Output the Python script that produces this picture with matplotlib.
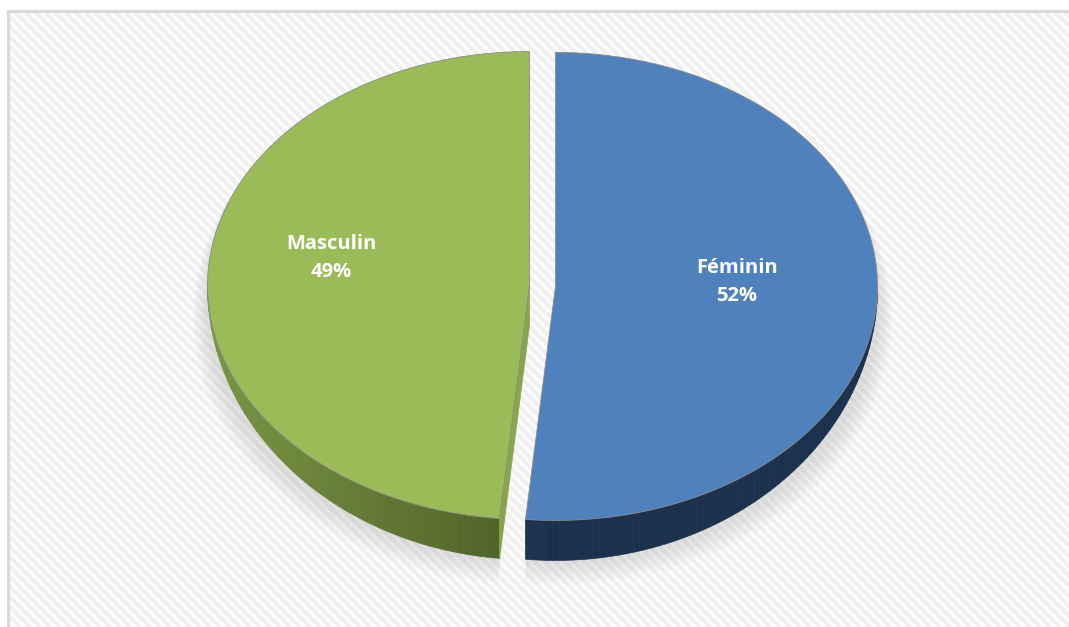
import numpy as np
import matplotlib.pyplot as plt
from matplotlib.colors import to_rgb
from matplotlib.patches import Polygon
from matplotlib.collections import LineCollection, PolyCollection

# Répartition par sexe (en %)
categories = ['Féminin', 'Masculin']
values = [52, 49]

top_colors = ['#4f81bd', '#9bbb59']
side_dark = ['#1c314d', '#4b5f26']
side_light = ['#2a4668', '#7a9643']
cut_colors = ['#3f6ea6', '#87a64c']

W, H = 1069, 627
fig = plt.figure(figsize=(W / 100, H / 100), dpi=100)
ax = fig.add_axes([0, 0, 1, 1])
ax.set_xlim(0, W)
ax.set_ylim(H, 0)
ax.axis('off')

# striped background inside the frame
segs = []
for x0 in np.arange(-H, W + 10, 10):
    segs.append([(x0, 0), (x0 + H, H)])
ax.add_collection(LineCollection(segs, colors='#f0f0f0', linewidths=3.2, zorder=0))
ax.add_patch(plt.Rectangle((0, 0), W, 10, color='white', zorder=0.5))
ax.add_patch(plt.Rectangle((0, 0), 7, H, color='white', zorder=0.5))
ax.plot([8, 8, W], [H, 11, 11], color='#d9d9d9', lw=2.2, zorder=0.6,
        solid_joinstyle='miter')

# pie geometry (screen pixels, y down)
cx, cy = 542.5, 286
rx, ry = 322, 234
depth = 40
explode = 13

total = float(sum(values))
spans = [v / total * 360 for v in values]
starts = [90 - sum(spans[:i]) for i in range(len(values))]  # clockwise from 12 o'clock


def pt(c, t, bottom=False):
    # point on the top (or bottom) rim at math angle t in degrees, y pointing down
    r = np.radians(t)
    yr = ry + depth if bottom else ry
    return (c[0] + rx * np.cos(r), c[1] - yr * np.sin(r))


centers = []
for s, sp in zip(starts, spans):
    mid = np.radians(s - sp / 2)
    centers.append((cx + explode * np.cos(mid), cy - explode * np.sin(mid) * ry / rx))

# soft shadow under each slice, spreading downward
for c, s, sp in zip(centers, starts, spans):
    tr = np.radians(np.linspace(s - sp, s, 150))
    for k in range(8):
        g = 3 + k * 3
        sc = (c[0], c[1] + depth / 2 + g / 2)
        xs = np.r_[sc[0], sc[0] + (rx + g * 0.6) * np.cos(tr)]
        ys = np.r_[sc[1], sc[1] - (ry + depth / 2 + g / 2) * np.sin(tr)]
        ax.fill(xs, ys, color='#808080', alpha=0.028, lw=0, zorder=1)

for i, (c, s, sp) in enumerate(zip(centers, starts, spans)):
    a0, a1 = s - sp, s  # counterclockwise range
    cl = np.array(to_rgb(side_light[i]))
    cd = np.array(to_rgb(side_dark[i]))
    # outer side, only the front half shows
    for lo_, hi_ in [(a0, a1), (a0 + 360, a1 + 360)]:
        lo2, hi2 = max(lo_, 180), min(hi_, 360)
        if hi2 <= lo2:
            continue
        ts = np.linspace(lo2, hi2, 80)
        quads, cols = [], []
        for t0, t1 in zip(ts[:-1], ts[1:]):
            quads.append([pt(c, t0), pt(c, t1), pt(c, t1, True), pt(c, t0, True)])
            tm = (t0 + t1) / 2
            # lighter toward the left edge, darker toward the front
            w = abs(np.cos(np.radians(tm))) if tm < 270 else 0.0
            cols.append(cd * (1 - w) + cl * w)
        ax.add_collection(PolyCollection(quads, facecolors=cols, edgecolors=cols,
                                         linewidths=0.5, zorder=2))
    # radial cut faces that turn toward the viewer
    for t, sign in [(a0, -1), (a1, 1)]:
        tr = np.radians(t)
        ny = sign * np.cos(tr)
        if ny < -0.01:
            face = [c, pt(c, t), pt(c, t, True), (c[0], c[1] + depth)]
            ax.add_patch(Polygon(face, closed=True, fc=cut_colors[i], ec=cut_colors[i],
                                 lw=0.5, zorder=2.5))

# top faces and labels
for i, (c, s, sp) in enumerate(zip(centers, starts, spans)):
    ts = np.linspace(s - sp, s, 200)
    pts = [c] + [pt(c, t) for t in ts]
    ax.add_patch(Polygon(pts, closed=True, fc=top_colors[i], ec='#8a8a8a',
                         lw=0.6, zorder=3))

label_pos = [(737, 282), (331, 258)]
for name, v, (lx, ly) in zip(categories, values, label_pos):
    ax.text(lx, ly, f'{name}\n{v}%', color='white', fontsize=14.5, fontweight='bold',
            family='Open Sans', ha='center', va='center', linespacing=1.5, zorder=4)

fig.savefig('out.png', dpi=100)
